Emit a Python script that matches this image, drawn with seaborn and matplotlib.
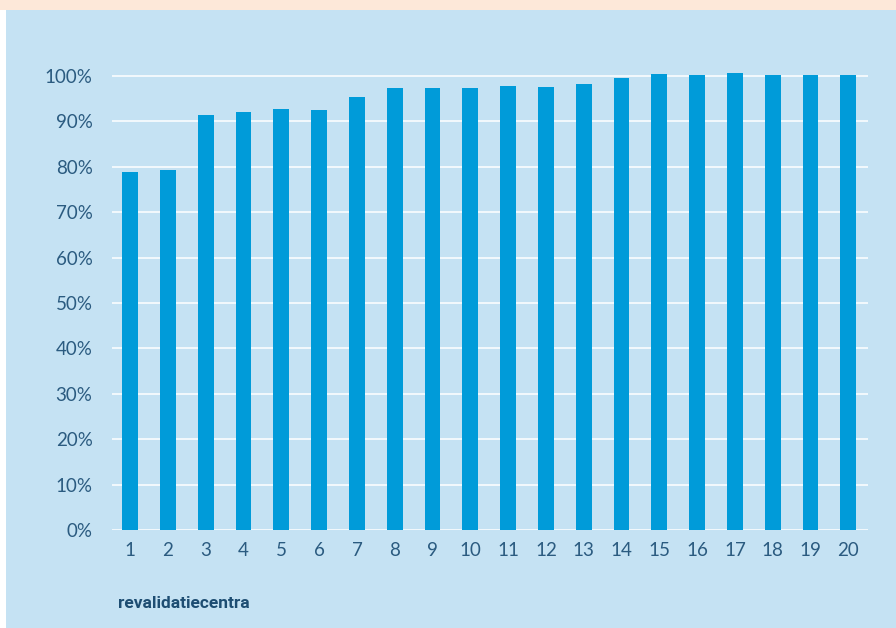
import matplotlib
matplotlib.use("Agg")
import matplotlib.pyplot as plt
import matplotlib.patches as mpatches
import numpy as np
import pandas as pd
import seaborn as sns

# percentages, one per revalidatiecentrum
centra = [str(i) for i in range(1, 21)]
percentages = [78.9, 79.3, 91.4, 92.1, 92.7, 92.5, 95.4, 97.4, 97.4, 97.4,
               97.8, 97.6, 98.2, 99.6, 100.4, 100.2, 100.7, 100.2, 100.2, 100.2]
y_ticks = [0, 10, 20, 30, 40, 50, 60, 70, 80, 90, 100]
y_labels = [f"{v}%" for v in y_ticks]
x_title = "revalidatiecentra"

bg = "#c5e2f3"
bar_color = "#009bd9"
text_color = "#2b5b80"

sns.set_style("white", {"axes.facecolor": bg, "figure.facecolor": bg})
plt.rcParams["font.family"] = ["Lato", "DejaVu Sans"]

df = pd.DataFrame({"centrum": centra, "pct": percentages})

fig = plt.figure(figsize=(8.96, 6.28), dpi=100)
fig.patch.set_facecolor(bg)
# peach strip at the top and white margin at the left
fig.patches.append(mpatches.Rectangle((0, 1 - 10 / 628), 1, 10 / 628, transform=fig.transFigure,
                                      facecolor="#fde8d9", edgecolor="none", zorder=0))
fig.patches.append(mpatches.Rectangle((0, 0), 6 / 896, 1 - 10 / 628, transform=fig.transFigure,
                                      facecolor="white", edgecolor="none", zorder=0))

ax = fig.add_axes([112 / 896, 1 - 530 / 628, (868 - 112) / 896, (530 - 53.3) / 628])
ax.set_facecolor(bg)
sns.barplot(data=df, x="centrum", y="pct", color=bar_color, width=0.42,
            saturation=1, linewidth=0, edgecolor="none", ax=ax, zorder=3)

ax.set_ylim(0, 105)
ax.set_xlim(-0.48, 19.52)
ax.set_yticks(y_ticks)
ax.set_yticklabels(y_labels)
ax.set_axisbelow(True)
ax.grid(axis="y", color="white", linewidth=1.1)
ax.grid(axis="x", visible=False)
for s in ax.spines.values():
    s.set_visible(False)
ax.tick_params(axis="both", length=0, labelsize=13.5, labelcolor=text_color)
ax.tick_params(axis="y", pad=14)
ax.tick_params(axis="x", pad=9)
for lab in ax.get_xticklabels() + ax.get_yticklabels():
    lab.set_fontweight("normal")
    lab.set_color(text_color)
ax.set_xlabel("")
ax.set_ylabel("")

fig.text(118 / 896, 1 - 603 / 628, x_title, ha="left", va="center", fontsize=12.5,
         fontweight="bold", color="#1d4d72", family=["Roboto", "DejaVu Sans"])

fig.savefig("out.png", dpi=100, facecolor=bg)
